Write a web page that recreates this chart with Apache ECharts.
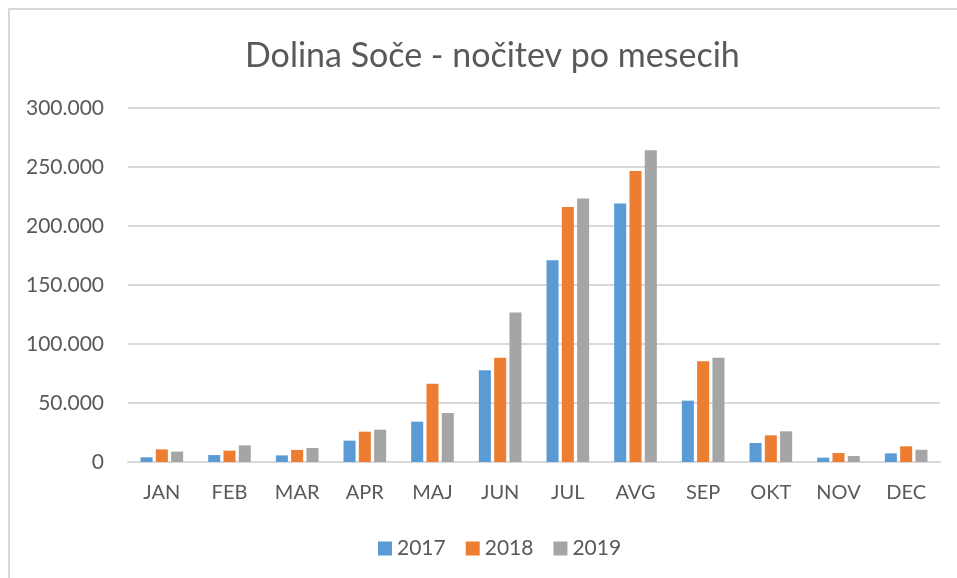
<!DOCTYPE html>
<html>
<head>
<meta charset="utf-8">
<script src="https://cdn.jsdelivr.net/npm/echarts@6/dist/echarts.min.js"></script>
<style>
  html, body { margin: 0; padding: 0; background: #fff; }
  #frame {
    position: absolute; left: 8px; top: 8px; width: 949px; height: 570px;
    border-left: 2px solid #d9d9d9; border-top: 2px solid #d9d9d9;
  }
  #chart { position: absolute; left: 0; top: 0; width: 957px; height: 578px; }
</style>
</head>
<body>
<div id="frame"></div>
<div id="chart"></div>
<script>
const months = ['JAN', 'FEB', 'MAR', 'APR', 'MAJ', 'JUN', 'JUL', 'AVG', 'SEP', 'OKT', 'NOV', 'DEC'];
const y2017 = [4000, 5900, 5600, 18100, 34200, 77700, 170900, 219000, 52000, 16100, 3700, 7300];
const y2018 = [10700, 9600, 10200, 25700, 66400, 88400, 216100, 246600, 85300, 22600, 7600, 13300];
const y2019 = [8800, 14100, 11900, 27400, 41500, 126800, 223200, 264100, 88400, 26000, 5100, 10400];

const textColor = '#595959';
const font = 'Lato, "Open Sans", sans-serif';

function fmt(v) {
  // Slovene thousands separator
  return String(v).replace(/\B(?=(\d{3})+(?!\d))/g, '.');
}

function bar(name, data, color) {
  return {
    name: name,
    type: 'bar',
    data: data,
    barGap: '27%',
    barCategoryGap: '37%',
    itemStyle: { color: color },
  };
}

const chart = echarts.init(document.getElementById('chart'));
chart.setOption({
  animation: false,
  textStyle: { fontFamily: font },
  title: {
    text: 'Dolina Soče - nočitev po mesecih',
    left: 240,
    top: 34,
    textStyle: { color: textColor, fontSize: 34, fontWeight: 'normal', fontFamily: font },
  },
  legend: {
    top: 533,
    left: 373,
    itemWidth: 14,
    itemHeight: 14,
    itemGap: 20,
    icon: 'rect',
    textStyle: { color: textColor, fontSize: 21, fontFamily: font },
  },
  grid: { left: 128, right: 17, top: 108, bottom: 116 },
  xAxis: {
    type: 'category',
    data: months,
    axisLine: { lineStyle: { color: '#d9d9d9', width: 2 } },
    axisTick: { show: false },
    axisLabel: { color: textColor, fontSize: 20, margin: 21, fontFamily: font },
  },
  yAxis: {
    type: 'value',
    min: 0,
    max: 300000,
    interval: 50000,
    axisLabel: { color: textColor, fontSize: 21, margin: 24, formatter: fmt, fontFamily: font },
    splitLine: { lineStyle: { color: '#d9d9d9', width: 2 } },
  },
  series: [
    bar('2017', y2017, '#5b9bd5'),
    bar('2018', y2018, '#ed7d31'),
    bar('2019', y2019, '#a5a5a5'),
  ],
});
</script>
</body>
</html>
